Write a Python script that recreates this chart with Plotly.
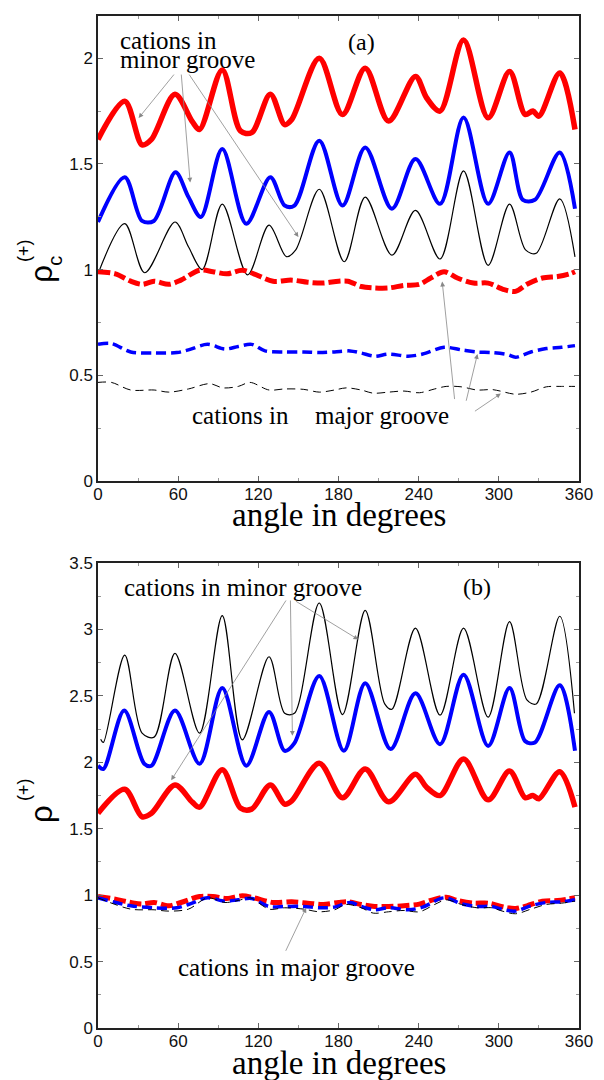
import plotly.graph_objects as go

# ---------------- Panel (a) data ----------------
a_red_minor_x = [0, 20, 33, 40, 57.6, 70.6, 76, 93, 106.6, 115, 129, 139.7, 145, 165.6, 183, 200, 217.5, 237.6, 246, 256, 273.6, 292, 308, 319.7, 325.5, 330, 345.6, 357]
a_red_minor_y = [1.616, 1.797, 1.59, 1.616, 1.83, 1.70, 1.663, 1.945, 1.656, 1.648, 1.83, 1.686, 1.71, 2.0, 1.734, 1.953, 1.703, 1.914, 1.812, 1.75, 2.086, 1.718, 1.937, 1.734, 1.75, 1.726, 1.93, 1.663]

a_blue_minor_x = [0, 20, 33, 41.8, 58, 67.7, 77, 93, 111, 129, 139.7, 147, 165.6, 183, 200, 220, 237.6, 256, 273.6, 292, 308, 318, 327, 345.6, 357]
a_blue_minor_y = [1.225, 1.437, 1.23, 1.23, 1.46, 1.343, 1.249, 1.57, 1.217, 1.437, 1.303, 1.303, 1.61, 1.303, 1.578, 1.288, 1.523, 1.311, 1.72, 1.311, 1.554, 1.33, 1.33, 1.554, 1.288]

a_black_minor_x = [0, 20, 35, 57.6, 67.7, 78, 93, 112, 128, 141, 148, 165.6, 184.3, 200, 220, 237.6, 256, 273.6, 292, 308, 320, 328, 345.6, 357]
a_black_minor_y = [0.98, 1.217, 0.985, 1.225, 1.108, 1.0, 1.31, 0.975, 1.21, 1.061, 1.093, 1.38, 1.037, 1.343, 1.068, 1.28, 1.05, 1.467, 1.02, 1.31, 1.093, 1.077, 1.335, 1.06]

a_red_major_x = [0, 13, 24.5, 33, 42, 53, 62, 76, 86, 96.5, 108, 116.6, 131, 145, 157, 168.5, 180, 187, 197, 207, 217.5, 229, 240.5, 249, 259, 269, 281, 292, 304, 312.5, 321, 332.6, 344, 353, 357]
a_red_major_y = [0.99, 0.98, 0.945, 0.93, 0.945, 0.93, 0.95, 0.997, 0.99, 0.98, 0.997, 0.98, 0.945, 0.95, 0.94, 0.936, 0.945, 0.945, 0.92, 0.913, 0.913, 0.925, 0.93, 0.96, 0.99, 0.96, 0.936, 0.936, 0.905, 0.897, 0.93, 0.96, 0.967, 0.98, 0.99]

a_blue_major_x = [0, 10, 24.5, 42, 59, 67.7, 82, 95, 105, 115, 125, 139.7, 154, 165.6, 177, 188.6, 197, 207, 217.5, 232, 243, 259, 272, 283.7, 295, 306.7, 312.5, 324, 335.5, 347, 357]
a_blue_major_y = [0.646, 0.65, 0.61, 0.605, 0.607, 0.62, 0.646, 0.624, 0.636, 0.646, 0.615, 0.61, 0.61, 0.607, 0.61, 0.615, 0.605, 0.59, 0.6, 0.59, 0.6, 0.632, 0.62, 0.61, 0.607, 0.597, 0.585, 0.61, 0.626, 0.632, 0.64]

a_black_major_x = [0, 10, 24.5, 42, 53, 67.7, 83.5, 93.6, 105, 113.8, 128, 139.7, 154, 165.6, 177, 185.8, 197, 206, 217.5, 229, 240.5, 252, 260.6, 272, 283.7, 295, 301, 312.5, 324, 335.5, 347, 357]
a_black_major_y = [0.466, 0.466, 0.43, 0.43, 0.42, 0.435, 0.46, 0.44, 0.447, 0.466, 0.43, 0.435, 0.433, 0.42, 0.43, 0.44, 0.43, 0.415, 0.42, 0.425, 0.417, 0.435, 0.447, 0.445, 0.43, 0.432, 0.425, 0.41, 0.42, 0.445, 0.447, 0.447]

# ---------------- Panel (b) data ----------------
b_black_minor_x = [2, 4, 20, 33, 42, 57.6, 76, 93, 108, 128, 139.7, 147, 165.6, 183, 200, 214.6, 220, 237.6, 256, 273.6, 292, 308, 321, 328, 345.6, 356.6]
b_black_minor_y = [2.174, 2.15, 2.808, 2.22, 2.19, 2.82, 2.22, 3.105, 2.17, 2.795, 2.37, 2.37, 3.2, 2.36, 3.145, 2.44, 2.40, 3.01, 2.355, 3.01, 2.34, 3.06, 2.47, 2.44, 3.1, 2.37]

b_blue_minor_x = [0, 4, 19.6, 34.6, 40, 57.6, 76, 93, 111, 128, 139.7, 147, 165.6, 184, 200, 219, 237.6, 256, 273.6, 292, 308, 319.7, 327, 345.6, 357]
b_blue_minor_y = [1.975, 1.95, 2.39, 1.99, 1.975, 2.39, 1.99, 2.56, 1.975, 2.38, 2.087, 2.145, 2.65, 2.087, 2.595, 2.1, 2.52, 2.137, 2.66, 2.124, 2.56, 2.16, 2.15, 2.58, 2.087]

b_red_minor_x = [0, 20, 33, 40, 57.6, 70.6, 76, 93, 106.6, 115, 129, 139.7, 145, 165.6, 183, 200, 217.5, 237.6, 246, 256, 273.6, 292, 308, 319.7, 325.5, 330, 345.6, 357]
b_red_minor_y = [1.616, 1.797, 1.59, 1.616, 1.83, 1.70, 1.663, 1.945, 1.656, 1.648, 1.83, 1.686, 1.71, 1.993, 1.734, 1.95, 1.703, 1.91, 1.812, 1.75, 2.025, 1.718, 1.935, 1.734, 1.75, 1.726, 1.93, 1.663]

b_red_major_x = [0, 13, 24.5, 33, 42, 53, 62, 76, 86, 96.5, 108, 116.6, 131, 145, 157, 168.5, 180, 187, 197, 207, 217.5, 229, 240.5, 249, 260.6, 269, 281, 292, 304, 312.5, 321, 332.6, 344, 357]
b_red_major_y = [0.99, 0.97, 0.945, 0.933, 0.945, 0.92, 0.945, 0.99, 0.99, 0.975, 0.995, 0.98, 0.945, 0.95, 0.94, 0.93, 0.945, 0.95, 0.93, 0.915, 0.915, 0.92, 0.933, 0.96, 0.985, 0.96, 0.94, 0.94, 0.91, 0.9, 0.92, 0.955, 0.96, 0.98]

b_blue_major_x = [0, 24.5, 42, 59, 67.7, 82, 95, 105, 115, 128, 139.7, 154, 165.6, 177, 188.6, 197, 207, 217.5, 232, 243, 259, 272, 283.7, 295, 304, 312.5, 324, 335.5, 347, 357]
b_blue_major_y = [0.98, 0.92, 0.905, 0.905, 0.93, 0.98, 0.955, 0.965, 0.975, 0.915, 0.915, 0.915, 0.905, 0.91, 0.945, 0.915, 0.89, 0.905, 0.89, 0.91, 0.98, 0.935, 0.915, 0.915, 0.89, 0.88, 0.92, 0.945, 0.95, 0.965]

b_black_major_x = [0, 24.5, 42, 53, 67.7, 82, 95, 105, 113.8, 128, 139.7, 154, 165.6, 177, 185.8, 197, 206, 217.5, 229, 240.5, 252, 260.6, 272, 283.7, 295, 301, 312.5, 324, 335.5, 347, 357]
b_black_major_y = [0.98, 0.895, 0.89, 0.88, 0.895, 0.98, 0.945, 0.96, 0.98, 0.895, 0.905, 0.895, 0.875, 0.89, 0.93, 0.905, 0.865, 0.875, 0.885, 0.875, 0.93, 0.965, 0.93, 0.905, 0.905, 0.885, 0.86, 0.895, 0.93, 0.94, 0.955]

x_ticks = [0, 60, 120, 180, 240, 300, 360]
a_y_ticks = [0, 0.5, 1, 1.5, 2]
b_y_ticks = [0, 0.5, 1, 1.5, 2, 2.5, 3, 3.5]

RED = "#ff0000"
BLUE = "#0000ff"
BLACK = "#000000"

fig = go.Figure()

def add(x, y, color, width, dash, xa, ya):
    fig.add_trace(go.Scatter(x=x, y=y, mode="lines", xaxis=xa, yaxis=ya,
                             line=dict(color=color, width=width, dash=dash,
                                       shape="spline", smoothing=0.9),
                             showlegend=False, hoverinfo="skip"))

# panel (a)
add(a_red_minor_x, a_red_minor_y, RED, 5.5, "solid", "x", "y")
add(a_blue_minor_x, a_blue_minor_y, BLUE, 4, "solid", "x", "y")
add(a_black_minor_x, a_black_minor_y, BLACK, 1.2, "solid", "x", "y")
add(a_red_major_x, a_red_major_y, RED, 5, "12px,4px", "x", "y")
add(a_blue_major_x, a_blue_major_y, BLUE, 3.5, "10px,5px", "x", "y")
add(a_black_major_x, a_black_major_y, BLACK, 1, "8px,5px", "x", "y")
# panel (b)
add(b_red_minor_x, b_red_minor_y, RED, 5.5, "solid", "x2", "y2")
add(b_blue_minor_x, b_blue_minor_y, BLUE, 4, "solid", "x2", "y2")
add(b_black_minor_x, b_black_minor_y, BLACK, 1.2, "solid", "x2", "y2")
add(b_red_major_x, b_red_major_y, RED, 5, "12px,4px", "x2", "y2")
add(b_blue_major_x, b_blue_major_y, BLUE, 3.5, "10px,5px", "x2", "y2")
add(b_black_major_x, b_black_major_y, BLACK, 1, "8px,5px", "x2", "y2")

tickfont = dict(family="Liberation Sans, Arial, sans-serif", size=17, color="#111")
xcommon = dict(range=[0, 360], tickvals=x_ticks, ticks="inside", ticklen=5,
               tickcolor="#666", showline=True, linecolor="#222", linewidth=1.5,
               mirror="allticks", showgrid=False, zeroline=False, tickfont=tickfont,
               ticklabelstandoff=-3,
               minor=dict(dtick=30, tick0=0, ticks="inside", ticklen=3, tickcolor="#999"))
ycommon = dict(ticks="inside", ticklen=5, tickcolor="#666", showline=True,
               linecolor="#222", linewidth=1.5, mirror="allticks", showgrid=False,
               zeroline=False, tickfont=tickfont)

L, R, T, B = 98, 25, 7, 52
W, H = 604, 1080
PW, PH = W - L - R, H - T - B

fig.update_layout(
    width=W, height=H,
    margin=dict(l=L, r=R, t=T, b=B, pad=0),
    paper_bgcolor="white", plot_bgcolor="white",
    xaxis=dict(domain=[0, 1], anchor="y", **xcommon),
    yaxis=dict(domain=[(1028 - 476) / PH, 1.0], anchor="x", range=[0, 2.2], tickvals=a_y_ticks,
               minor=dict(dtick=0.25, tick0=0, ticks="inside", ticklen=3, tickcolor="#999"),
               **ycommon),
    xaxis2=dict(domain=[0, 1], anchor="y2", **xcommon),
    yaxis2=dict(domain=[0, (1028 - 559) / PH], anchor="x2", range=[0, 3.5], tickvals=b_y_ticks,
                minor=dict(dtick=0.25, tick0=0, ticks="inside", ticklen=3, tickcolor="#999"),
                **ycommon),
)

SERIF = "Liberation Serif, Times New Roman, serif"
SANS = "Liberation Sans, Arial, sans-serif"
ann = []

def px(xp, yp):
    # pixel position in the figure -> paper coordinates (plot area based)
    return (xp - L) / PW, (H - B - yp) / PH

def txt(text, x, y, size, xref="paper", yref="paper", family=SERIF, angle=0, xanchor="center"):
    ann.append(dict(text=text, x=x, y=y, xref=xref, yref=yref, showarrow=False,
                    font=dict(family=family, size=size, color="black"),
                    textangle=angle, xanchor=xanchor, yanchor="middle"))

# axis titles
for yc in (510, 1063):
    x0, y0 = px(338.5, yc)
    txt("angle in degrees", x0, y0, 33)

# y axis titles (rotated)
x0, y0 = px(42, 267); txt("ρ", x0, y0, 31, family=SANS, angle=-90)
x0, y0 = px(55, 254); txt("c", x0, y0, 20, family=SANS, angle=-90)
x0, y0 = px(24, 244); txt("(+)", x0, y0, 18, family=SANS, angle=-90)
x0, y0 = px(42, 812); txt("ρ", x0, y0, 31, family=SANS, angle=-90)
x0, y0 = px(24, 788); txt("(+)", x0, y0, 18, family=SANS, angle=-90)

# panel labels and texts (data coordinates)
txt("(a)", 197, 2.075, 24, "x", "y")
txt("cations in", 15, 2.083, 25, "x", "y", xanchor="left")
txt("minor groove", 15, 1.993, 25, "x", "y", xanchor="left")
txt("cations in", 69, 0.31, 25, "x", "y", xanchor="left")
txt("major groove", 161, 0.31, 25, "x", "y", xanchor="left")

txt("(b)", 284, 3.32, 24, "x2", "y2")
txt("cations in minor groove", 18, 3.32, 25, "x2", "y2", xanchor="left")
txt("cations in major groove", 58.5, 0.455, 25, "x2", "y2", xanchor="left")

def arrow(xt, yt, xh, yh, xr, yr):
    ann.append(dict(x=xh, y=yh, ax=xt, ay=yt, xref=xr, yref=yr, axref=xr, ayref=yr,
                    showarrow=True, arrowhead=2, arrowsize=1.2, arrowwidth=0.8,
                    arrowcolor="#888", text=""))

# panel (a) minor groove arrows
arrow(57.75, 1.93, 30.4, 1.717, "x", "y")
arrow(62.25, 1.93, 69, 1.412, "x", "y")
arrow(67.5, 1.93, 150, 1.154, "x", "y")
# panel (a) major groove arrows
arrow(267, 0.38, 257.6, 0.943, "x", "y")
arrow(275.3, 0.372, 284, 0.60, "x", "y")
arrow(281, 0.325, 301.5, 0.413, "x", "y")
# panel (b) minor groove arrows
arrow(141.4, 3.23, 54.8, 1.866, "x2", "y2")
arrow(144, 3.23, 145.5, 2.2, "x2", "y2")
arrow(147, 3.22, 194.8, 2.925, "x2", "y2")
# panel (b) major groove arrow
arrow(140, 0.57, 155.8, 0.905, "x2", "y2")

fig.update_layout(annotations=ann)
fig.write_html("out.html", config={"displayModeBar": False},
               post_script="document.body.style.margin='0px';")
